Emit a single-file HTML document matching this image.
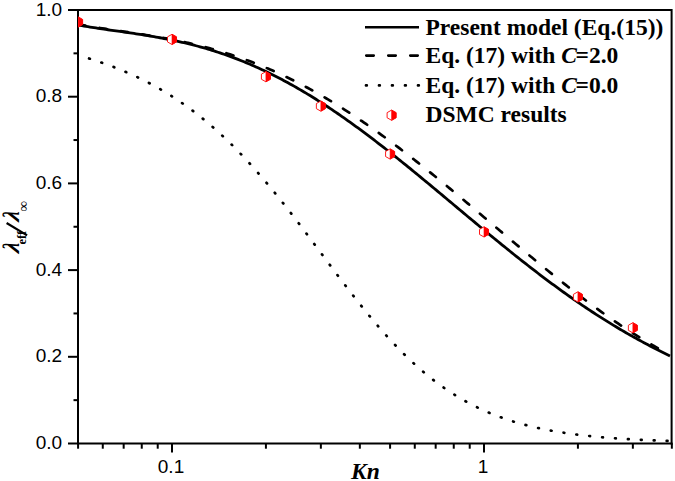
<!DOCTYPE html>
<html><head><meta charset="utf-8"><title>Chart</title>
<style>
html,body{margin:0;padding:0;background:#fff;}
body{width:675px;height:481px;overflow:hidden;font-family:"Liberation Sans",sans-serif;}
svg{display:block;}
.t{font-family:"Liberation Sans",sans-serif;font-size:19px;fill:#000;}
.l{font-family:"Liberation Serif",serif;font-weight:bold;font-size:23.5px;fill:#000;}
.i{font-style:italic;}
</style></head><body>
<svg width="675" height="481" viewBox="0 0 675 481">
<rect x="0" y="0" width="675" height="481" fill="#fff"/>
<defs><clipPath id="c"><rect x="78" y="10" width="593.6" height="433.5"/></clipPath></defs>

<g clip-path="url(#c)" fill="none" stroke="#000">
<path d="M78.0,55.24 L80.0,55.80 L82.0,56.38 L84.0,56.96 L86.0,57.56 L88.0,58.16 L90.0,58.78 L92.0,59.41 L94.0,60.05 L96.0,60.70 L98.0,61.36 L100.0,62.04 L102.0,62.73 L104.0,63.43 L106.0,64.14 L108.0,64.86 L110.0,65.60 L112.0,66.36 L114.0,67.12 L116.0,67.90 L118.0,68.70 L120.0,69.50 L122.0,70.33 L124.0,71.16 L126.0,72.02 L128.0,72.88 L130.0,73.77 L132.0,74.67 L134.0,75.58 L136.0,76.51 L138.0,77.46 L140.0,78.43 L142.0,79.41 L144.0,80.41 L146.0,81.42 L148.0,82.46 L150.0,83.51 L152.0,84.58 L154.0,85.67 L156.0,86.78 L158.0,87.90 L160.0,89.05 L162.0,90.21 L164.0,91.40 L166.0,92.61 L168.0,93.83 L170.0,95.08 L172.0,96.34 L174.0,97.63 L176.0,98.94 L178.0,100.27 L180.0,101.62 L182.0,103.00 L184.0,104.40 L186.0,105.81 L188.0,107.26 L190.0,108.72 L192.0,110.21 L194.0,111.72 L196.0,113.25 L198.0,114.81 L200.0,116.39 L202.0,117.99 L204.0,119.62 L206.0,121.27 L208.0,122.95 L210.0,124.65 L212.0,126.38 L214.0,128.13 L216.0,129.90 L218.0,131.70 L220.0,133.53 L222.0,135.38 L224.0,137.25 L226.0,139.15 L228.0,141.07 L230.0,143.02 L232.0,144.99 L234.0,146.99 L236.0,149.01 L238.0,151.05 L240.0,153.12 L242.0,155.22 L244.0,157.34 L246.0,159.48 L248.0,161.65 L250.0,163.83 L252.0,166.05 L254.0,168.28 L256.0,170.54 L258.0,172.82 L260.0,175.12 L262.0,177.44 L264.0,179.79 L266.0,182.15 L268.0,184.54 L270.0,186.94 L272.0,189.37 L274.0,191.81 L276.0,194.27 L278.0,196.75 L280.0,199.25 L282.0,201.76 L284.0,204.29 L286.0,206.84 L288.0,209.39 L290.0,211.97 L292.0,214.55 L294.0,217.15 L296.0,219.76 L298.0,222.38 L300.0,225.01 L302.0,227.65 L304.0,230.30 L306.0,232.96 L308.0,235.62 L310.0,238.29 L312.0,240.97 L314.0,243.64 L316.0,246.33 L318.0,249.01 L320.0,251.70 L322.0,254.38 L324.0,257.07 L326.0,259.75 L328.0,262.43 L330.0,265.11 L332.0,267.79 L334.0,270.45 L336.0,273.12 L338.0,275.77 L340.0,278.42 L342.0,281.06 L344.0,283.69 L346.0,286.31 L348.0,288.91 L350.0,291.51 L352.0,294.09 L354.0,296.65 L356.0,299.20 L358.0,301.74 L360.0,304.26 L362.0,306.76 L364.0,309.24 L366.0,311.71 L368.0,314.15 L370.0,316.57 L372.0,318.98 L374.0,321.36 L376.0,323.71 L378.0,326.05 L380.0,328.36 L382.0,330.65 L384.0,332.91 L386.0,335.15 L388.0,337.36 L390.0,339.54 L392.0,341.70 L394.0,343.84 L396.0,345.94 L398.0,348.02 L400.0,350.07 L402.0,352.09 L404.0,354.08 L406.0,356.05 L408.0,357.98 L410.0,359.89 L412.0,361.76 L414.0,363.61 L416.0,365.43 L418.0,367.22 L420.0,368.98 L422.0,370.71 L424.0,372.41 L426.0,374.08 L428.0,375.72 L430.0,377.34 L432.0,378.92 L434.0,380.48 L436.0,382.00 L438.0,383.50 L440.0,384.97 L442.0,386.40 L444.0,387.82 L446.0,389.20 L448.0,390.55 L450.0,391.88 L452.0,393.18 L454.0,394.46 L456.0,395.70 L458.0,396.92 L460.0,398.12 L462.0,399.28 L464.0,400.43 L466.0,401.54 L468.0,402.64 L470.0,403.70 L472.0,404.75 L474.0,405.77 L476.0,406.76 L478.0,407.74 L480.0,408.69 L482.0,409.62 L484.0,410.52 L486.0,411.40 L488.0,412.27 L490.0,413.11 L492.0,413.93 L494.0,414.73 L496.0,415.51 L498.0,416.27 L500.0,417.02 L502.0,417.74 L504.0,418.45 L506.0,419.13 L508.0,419.80 L510.0,420.46 L512.0,421.09 L514.0,421.71 L516.0,422.32 L518.0,422.90 L520.0,423.47 L522.0,424.03 L524.0,424.57 L526.0,425.10 L528.0,425.61 L530.0,426.11 L532.0,426.60 L534.0,427.07 L536.0,427.53 L538.0,427.98 L540.0,428.41 L542.0,428.84 L544.0,429.25 L546.0,429.65 L548.0,430.04 L550.0,430.42 L552.0,430.78 L554.0,431.14 L556.0,431.49 L558.0,431.83 L560.0,432.15 L562.0,432.47 L564.0,432.78 L566.0,433.08 L568.0,433.37 L570.0,433.66 L572.0,433.93 L574.0,434.20 L576.0,434.46 L578.0,434.72 L580.0,434.96 L582.0,435.20 L584.0,435.43 L586.0,435.65 L588.0,435.87 L590.0,436.08 L592.0,436.29 L594.0,436.49 L596.0,436.68 L598.0,436.87 L600.0,437.05 L602.0,437.23 L604.0,437.40 L606.0,437.57 L608.0,437.73 L610.0,437.89 L612.0,438.04 L614.0,438.19 L616.0,438.34 L618.0,438.48 L620.0,438.61 L622.0,438.74 L624.0,438.87 L626.0,438.99 L628.0,439.11 L630.0,439.23 L632.0,439.34 L634.0,439.45 L636.0,439.56 L638.0,439.66 L640.0,439.76 L642.0,439.86 L644.0,439.95 L646.0,440.05 L648.0,440.14 L650.0,440.22 L652.0,440.31 L654.0,440.39 L656.0,440.47 L658.0,440.54 L660.0,440.62 L662.0,440.69 L664.0,440.76 L666.0,440.83 L668.0,440.89 L670.0,440.95" stroke-width="2.7" stroke-linecap="round" stroke-dasharray="0.8 12.14" stroke-dashoffset="-11.57"/>
<path d="M78.0,24.32 L80.0,24.68 L82.0,25.04 L84.0,25.39 L86.0,25.73 L88.0,26.07 L90.0,26.41 L92.0,26.73 L94.0,27.06 L96.0,27.38 L98.0,27.69 L100.0,28.00 L102.0,28.31 L104.0,28.62 L106.0,28.92 L108.0,29.22 L110.0,29.52 L112.0,29.82 L114.0,30.12 L116.0,30.42 L118.0,30.71 L120.0,31.01 L122.0,31.30 L124.0,31.60 L126.0,31.90 L128.0,32.20 L130.0,32.50 L132.0,32.80 L134.0,33.10 L136.0,33.41 L138.0,33.72 L140.0,34.03 L142.0,34.34 L144.0,34.66 L146.0,34.98 L148.0,35.30 L150.0,35.63 L152.0,35.96 L154.0,36.30 L156.0,36.64 L158.0,36.99 L160.0,37.34 L162.0,37.70 L164.0,38.06 L166.0,38.43 L168.0,38.81 L170.0,39.19 L172.0,39.57 L174.0,39.97 L176.0,40.37 L178.0,40.78 L180.0,41.19 L182.0,41.62 L184.0,42.05 L186.0,42.48 L188.0,42.93 L190.0,43.38 L192.0,43.84 L194.0,44.31 L196.0,44.79 L198.0,45.28 L200.0,45.78 L202.0,46.28 L204.0,46.79 L206.0,47.32 L208.0,47.85 L210.0,48.39 L212.0,48.94 L214.0,49.50 L216.0,50.07 L218.0,50.65 L220.0,51.24 L222.0,51.84 L224.0,52.45 L226.0,53.08 L228.0,53.71 L230.0,54.35 L232.0,55.00 L234.0,55.66 L236.0,56.34 L238.0,57.02 L240.0,57.71 L242.0,58.42 L244.0,59.14 L246.0,59.86 L248.0,60.60 L250.0,61.35 L252.0,62.11 L254.0,62.88 L256.0,63.67 L258.0,64.46 L260.0,65.27 L262.0,66.08 L264.0,66.91 L266.0,67.75 L268.0,68.60 L270.0,69.46 L272.0,70.34 L274.0,71.22 L276.0,72.12 L278.0,73.03 L280.0,73.95 L282.0,74.88 L284.0,75.82 L286.0,76.77 L288.0,77.74 L290.0,78.71 L292.0,79.70 L294.0,80.70 L296.0,81.71 L298.0,82.74 L300.0,83.77 L302.0,84.81 L304.0,85.87 L306.0,86.94 L308.0,88.02 L310.0,89.11 L312.0,90.21 L314.0,91.32 L316.0,92.44 L318.0,93.58 L320.0,94.72 L322.0,95.88 L324.0,97.05 L326.0,98.22 L328.0,99.41 L330.0,100.61 L332.0,101.82 L334.0,103.04 L336.0,104.27 L338.0,105.51 L340.0,106.77 L342.0,108.03 L344.0,109.30 L346.0,110.58 L348.0,111.88 L350.0,113.18 L352.0,114.49 L354.0,115.81 L356.0,117.14 L358.0,118.48 L360.0,119.84 L362.0,121.20 L364.0,122.57 L366.0,123.94 L368.0,125.33 L370.0,126.73 L372.0,128.13 L374.0,129.55 L376.0,130.97 L378.0,132.40 L380.0,133.85 L382.0,135.29 L384.0,136.75 L386.0,138.22 L388.0,139.69 L390.0,141.17 L392.0,142.66 L394.0,144.16 L396.0,145.66 L398.0,147.17 L400.0,148.69 L402.0,150.22 L404.0,151.75 L406.0,153.29 L408.0,154.83 L410.0,156.39 L412.0,157.95 L414.0,159.51 L416.0,161.09 L418.0,162.66 L420.0,164.25 L422.0,165.84 L424.0,167.43 L426.0,169.03 L428.0,170.64 L430.0,172.25 L432.0,173.87 L434.0,175.49 L436.0,177.12 L438.0,178.75 L440.0,180.38 L442.0,182.02 L444.0,183.66 L446.0,185.31 L448.0,186.96 L450.0,188.62 L452.0,190.28 L454.0,191.94 L456.0,193.60 L458.0,195.27 L460.0,196.94 L462.0,198.62 L464.0,200.29 L466.0,201.97 L468.0,203.65 L470.0,205.33 L472.0,207.02 L474.0,208.70 L476.0,210.39 L478.0,212.08 L480.0,213.77 L482.0,215.46 L484.0,217.16 L486.0,218.85 L488.0,220.54 L490.0,222.24 L492.0,223.93 L494.0,225.62 L496.0,227.32 L498.0,229.01 L500.0,230.70 L502.0,232.40 L504.0,234.09 L506.0,235.78 L508.0,237.47 L510.0,239.16 L512.0,240.84 L514.0,242.53 L516.0,244.21 L518.0,245.89 L520.0,247.57 L522.0,249.24 L524.0,250.92 L526.0,252.59 L528.0,254.25 L530.0,255.92 L532.0,257.58 L534.0,259.24 L536.0,260.89 L538.0,262.54 L540.0,264.19 L542.0,265.83 L544.0,267.47 L546.0,269.10 L548.0,270.73 L550.0,272.35 L552.0,273.97 L554.0,275.58 L556.0,277.19 L558.0,278.79 L560.0,280.39 L562.0,281.98 L564.0,283.57 L566.0,285.15 L568.0,286.72 L570.0,288.28 L572.0,289.84 L574.0,291.39 L576.0,292.94 L578.0,294.48 L580.0,296.01 L582.0,297.53 L584.0,299.04 L586.0,300.55 L588.0,302.05 L590.0,303.54 L592.0,305.02 L594.0,306.50 L596.0,307.96 L598.0,309.42 L600.0,310.86 L602.0,312.30 L604.0,313.73 L606.0,315.15 L608.0,316.56 L610.0,317.96 L612.0,319.35 L614.0,320.73 L616.0,322.10 L618.0,323.46 L620.0,324.80 L622.0,326.14 L624.0,327.47 L626.0,328.78 L628.0,330.09 L630.0,331.38 L632.0,332.66 L634.0,333.93 L636.0,335.19 L638.0,336.44 L640.0,337.67 L642.0,338.90 L644.0,340.11 L646.0,341.31 L648.0,342.49 L650.0,343.66 L652.0,344.83 L654.0,345.97 L656.0,347.11 L658.0,348.23 L660.0,349.34 L662.0,350.43 L664.0,351.51 L666.0,352.58 L668.0,353.63 L670.0,354.67" stroke-width="2.7" stroke-linecap="round" stroke-dasharray="7.4 14.19" stroke-dashoffset="-0.2"/>
<path d="M78.0,24.99 L80.0,25.35 L82.0,25.70 L84.0,26.05 L86.0,26.38 L88.0,26.71 L90.0,27.04 L92.0,27.35 L94.0,27.67 L96.0,27.97 L98.0,28.28 L100.0,28.57 L102.0,28.87 L104.0,29.16 L106.0,29.45 L108.0,29.74 L110.0,30.03 L112.0,30.31 L114.0,30.59 L116.0,30.88 L118.0,31.16 L120.0,31.45 L122.0,31.73 L124.0,32.02 L126.0,32.30 L128.0,32.59 L130.0,32.88 L132.0,33.18 L134.0,33.48 L136.0,33.78 L138.0,34.08 L140.0,34.39 L142.0,34.70 L144.0,35.02 L146.0,35.34 L148.0,35.67 L150.0,36.00 L152.0,36.34 L154.0,36.68 L156.0,37.03 L158.0,37.39 L160.0,37.75 L162.0,38.12 L164.0,38.50 L166.0,38.89 L168.0,39.28 L170.0,39.68 L172.0,40.09 L174.0,40.51 L176.0,40.94 L178.0,41.38 L180.0,41.82 L182.0,42.28 L184.0,42.74 L186.0,43.22 L188.0,43.70 L190.0,44.19 L192.0,44.70 L194.0,45.21 L196.0,45.74 L198.0,46.27 L200.0,46.82 L202.0,47.38 L204.0,47.95 L206.0,48.53 L208.0,49.12 L210.0,49.72 L212.0,50.33 L214.0,50.96 L216.0,51.60 L218.0,52.25 L220.0,52.91 L222.0,53.58 L224.0,54.27 L226.0,54.96 L228.0,55.67 L230.0,56.40 L232.0,57.13 L234.0,57.88 L236.0,58.64 L238.0,59.41 L240.0,60.19 L242.0,60.99 L244.0,61.80 L246.0,62.62 L248.0,63.46 L250.0,64.30 L252.0,65.16 L254.0,66.04 L256.0,66.92 L258.0,67.82 L260.0,68.73 L262.0,69.66 L264.0,70.59 L266.0,71.54 L268.0,72.51 L270.0,73.48 L272.0,74.47 L274.0,75.47 L276.0,76.48 L278.0,77.51 L280.0,78.54 L282.0,79.59 L284.0,80.66 L286.0,81.73 L288.0,82.82 L290.0,83.92 L292.0,85.03 L294.0,86.15 L296.0,87.29 L298.0,88.44 L300.0,89.60 L302.0,90.77 L304.0,91.95 L306.0,93.15 L308.0,94.36 L310.0,95.57 L312.0,96.80 L314.0,98.04 L316.0,99.30 L318.0,100.56 L320.0,101.83 L322.0,103.12 L324.0,104.42 L326.0,105.72 L328.0,107.04 L330.0,108.37 L332.0,109.71 L334.0,111.05 L336.0,112.41 L338.0,113.78 L340.0,115.16 L342.0,116.55 L344.0,117.95 L346.0,119.35 L348.0,120.77 L350.0,122.19 L352.0,123.63 L354.0,125.07 L356.0,126.52 L358.0,127.99 L360.0,129.45 L362.0,130.93 L364.0,132.42 L366.0,133.91 L368.0,135.41 L370.0,136.92 L372.0,138.44 L374.0,139.96 L376.0,141.49 L378.0,143.03 L380.0,144.58 L382.0,146.13 L384.0,147.69 L386.0,149.25 L388.0,150.82 L390.0,152.40 L392.0,153.98 L394.0,155.57 L396.0,157.16 L398.0,158.76 L400.0,160.37 L402.0,161.98 L404.0,163.59 L406.0,165.21 L408.0,166.83 L410.0,168.46 L412.0,170.09 L414.0,171.73 L416.0,173.37 L418.0,175.01 L420.0,176.66 L422.0,178.31 L424.0,179.96 L426.0,181.61 L428.0,183.27 L430.0,184.93 L432.0,186.59 L434.0,188.26 L436.0,189.93 L438.0,191.59 L440.0,193.26 L442.0,194.93 L444.0,196.61 L446.0,198.28 L448.0,199.95 L450.0,201.63 L452.0,203.30 L454.0,204.98 L456.0,206.65 L458.0,208.33 L460.0,210.00 L462.0,211.68 L464.0,213.35 L466.0,215.02 L468.0,216.70 L470.0,218.37 L472.0,220.04 L474.0,221.70 L476.0,223.37 L478.0,225.03 L480.0,226.70 L482.0,228.35 L484.0,230.01 L486.0,231.67 L488.0,233.32 L490.0,234.97 L492.0,236.61 L494.0,238.26 L496.0,239.89 L498.0,241.53 L500.0,243.16 L502.0,244.79 L504.0,246.41 L506.0,248.03 L508.0,249.65 L510.0,251.26 L512.0,252.86 L514.0,254.47 L516.0,256.06 L518.0,257.65 L520.0,259.24 L522.0,260.82 L524.0,262.39 L526.0,263.96 L528.0,265.52 L530.0,267.08 L532.0,268.63 L534.0,270.17 L536.0,271.71 L538.0,273.24 L540.0,274.77 L542.0,276.29 L544.0,277.80 L546.0,279.30 L548.0,280.80 L550.0,282.29 L552.0,283.77 L554.0,285.24 L556.0,286.71 L558.0,288.17 L560.0,289.62 L562.0,291.07 L564.0,292.50 L566.0,293.93 L568.0,295.35 L570.0,296.76 L572.0,298.16 L574.0,299.56 L576.0,300.94 L578.0,302.32 L580.0,303.69 L582.0,305.05 L584.0,306.40 L586.0,307.74 L588.0,309.08 L590.0,310.40 L592.0,311.72 L594.0,313.03 L596.0,314.32 L598.0,315.61 L600.0,316.89 L602.0,318.16 L604.0,319.42 L606.0,320.68 L608.0,321.92 L610.0,323.15 L612.0,324.38 L614.0,325.59 L616.0,326.80 L618.0,327.99 L620.0,329.18 L622.0,330.36 L624.0,331.53 L626.0,332.69 L628.0,333.84 L630.0,334.98 L632.0,336.11 L634.0,337.23 L636.0,338.34 L638.0,339.45 L640.0,340.54 L642.0,341.63 L644.0,342.71 L646.0,343.78 L648.0,344.84 L650.0,345.89 L652.0,346.93 L654.0,347.97 L656.0,348.99 L658.0,350.01 L660.0,351.02 L662.0,352.02 L664.0,353.01 L666.0,354.00 L668.0,354.97 L670.0,355.94" stroke-width="2.8"/>
</g>
<g stroke="#000" stroke-width="2" fill="none">
<path d="M78.0,444.5 V10.0 H671.6 V444.5"/>
<path d="M68.0,443.5 H672.6"/>
<path d="M68.0,10.0 H78.0"/>
<path d="M73.5,400.15 H78.0"/>
<path d="M68.0,356.80 H78.0"/>
<path d="M73.5,313.45 H78.0"/>
<path d="M68.0,270.10 H78.0"/>
<path d="M73.5,226.75 H78.0"/>
<path d="M68.0,183.40 H78.0"/>
<path d="M73.5,140.05 H78.0"/>
<path d="M68.0,96.70 H78.0"/>
<path d="M73.5,53.35 H78.0"/>
<path d="M78.08,443.5 V448.7"/>
<path d="M102.78,443.5 V448.7"/>
<path d="M123.67,443.5 V448.7"/>
<path d="M141.76,443.5 V448.7"/>
<path d="M157.72,443.5 V448.7"/>
<path d="M265.92,443.5 V448.7"/>
<path d="M320.86,443.5 V448.7"/>
<path d="M359.84,443.5 V448.7"/>
<path d="M390.08,443.5 V448.7"/>
<path d="M414.78,443.5 V448.7"/>
<path d="M435.67,443.5 V448.7"/>
<path d="M453.76,443.5 V448.7"/>
<path d="M469.72,443.5 V448.7"/>
<path d="M577.92,443.5 V448.7"/>
<path d="M632.86,443.5 V448.7"/>
<path d="M671.84,443.5 V448.7"/>
<path d="M172.00,443.5 V452.5"/>
<path d="M484.00,443.5 V452.5"/>
</g>
<g clip-path="url(#c)">
<polygon points="78.08,16.90 82.58,19.45 82.58,24.55 78.08,27.10 73.58,24.55 73.58,19.45" fill="#fff" stroke="#f00" stroke-width="0.9"/><polygon points="78.08,16.90 82.58,19.45 82.58,24.55 78.08,27.10" fill="#f00" stroke="#f00" stroke-width="0.6"/>
<polygon points="172.00,34.30 176.50,36.85 176.50,41.95 172.00,44.50 167.50,41.95 167.50,36.85" fill="#fff" stroke="#f00" stroke-width="0.9"/><polygon points="172.00,34.30 176.50,36.85 176.50,41.95 172.00,44.50" fill="#f00" stroke="#f00" stroke-width="0.6"/>
<polygon points="265.92,71.60 270.42,74.15 270.42,79.25 265.92,81.80 261.42,79.25 261.42,74.15" fill="#fff" stroke="#f00" stroke-width="0.9"/><polygon points="265.92,71.60 270.42,74.15 270.42,79.25 265.92,81.80" fill="#f00" stroke="#f00" stroke-width="0.6"/>
<polygon points="320.86,101.00 325.36,103.55 325.36,108.65 320.86,111.20 316.36,108.65 316.36,103.55" fill="#fff" stroke="#f00" stroke-width="0.9"/><polygon points="320.86,101.00 325.36,103.55 325.36,108.65 320.86,111.20" fill="#f00" stroke="#f00" stroke-width="0.6"/>
<polygon points="390.08,148.90 394.58,151.45 394.58,156.55 390.08,159.10 385.58,156.55 385.58,151.45" fill="#fff" stroke="#f00" stroke-width="0.9"/><polygon points="390.08,148.90 394.58,151.45 394.58,156.55 390.08,159.10" fill="#f00" stroke="#f00" stroke-width="0.6"/>
<polygon points="484.00,226.80 488.50,229.35 488.50,234.45 484.00,237.00 479.50,234.45 479.50,229.35" fill="#fff" stroke="#f00" stroke-width="0.9"/><polygon points="484.00,226.80 488.50,229.35 488.50,234.45 484.00,237.00" fill="#f00" stroke="#f00" stroke-width="0.6"/>
<polygon points="577.92,291.80 582.42,294.35 582.42,299.45 577.92,302.00 573.42,299.45 573.42,294.35" fill="#fff" stroke="#f00" stroke-width="0.9"/><polygon points="577.92,291.80 582.42,294.35 582.42,299.45 577.92,302.00" fill="#f00" stroke="#f00" stroke-width="0.6"/>
<polygon points="632.86,322.70 637.36,325.25 637.36,330.35 632.86,332.90 628.36,330.35 628.36,325.25" fill="#fff" stroke="#f00" stroke-width="0.9"/><polygon points="632.86,322.70 637.36,325.25 637.36,330.35 632.86,332.90" fill="#f00" stroke="#f00" stroke-width="0.6"/>
</g>
<text class="t" x="62.2" y="449.1" text-anchor="end">0.0</text>
<text class="t" x="62.2" y="362.4" text-anchor="end">0.2</text>
<text class="t" x="62.2" y="275.7" text-anchor="end">0.4</text>
<text class="t" x="62.2" y="189.0" text-anchor="end">0.6</text>
<text class="t" x="62.2" y="102.3" text-anchor="end">0.8</text>
<text class="t" x="62.2" y="15.6" text-anchor="end">1.0</text>
<text class="t" x="171.0" y="473.2" text-anchor="middle">0.1</text>
<text class="t" x="483.0" y="473.2" text-anchor="middle">1</text>
<text class="l i" x="351" y="478.5">Kn</text>
<g transform="translate(18.9,255) rotate(-90)"><text class="l i" transform="translate(1.5,0) skewX(-12)">λ</text><text class="l" x="10.4" y="7.4" style="font-size:12.5px">eff</text><path d="M19.6,8.2 L32,-12.3" stroke="#000" stroke-width="2.2" fill="none"/><text class="l i" transform="translate(33,0) skewX(-12)">λ</text><text class="l" x="43.4" y="9" style="font-size:14.5px">∞</text></g>
<g stroke="#000" fill="none">
<path d="M365,27.2 H419" stroke-width="2.6"/>
<path d="M366.3,55.6 H419" stroke-width="2.7" stroke-linecap="round" stroke-dasharray="7.4 14.6"/>
<path d="M366,85.4 H419" stroke-width="2.7" stroke-linecap="round" stroke-dasharray="0.8 12.2"/>
</g>
<polygon points="391.60,110.10 396.10,112.65 396.10,117.75 391.60,120.30 387.10,117.75 387.10,112.65" fill="#fff" stroke="#f00" stroke-width="0.9"/><polygon points="391.60,110.10 396.10,112.65 396.10,117.75 391.60,120.30" fill="#f00" stroke="#f00" stroke-width="0.6"/>
<text class="l" x="425.5" y="34.6">Present model (Eq.(15))</text>
<text class="l" x="425.5" y="63.1">Eq. (17) with <tspan class="i">C</tspan><tspan dx="-1.4">=2.0</tspan></text>
<text class="l" x="425.5" y="92.8">Eq. (17) with <tspan class="i">C</tspan><tspan dx="-1.4">=0.0</tspan></text>
<text class="l" x="425.5" y="122.1">DSMC results</text>
</svg></body></html>
